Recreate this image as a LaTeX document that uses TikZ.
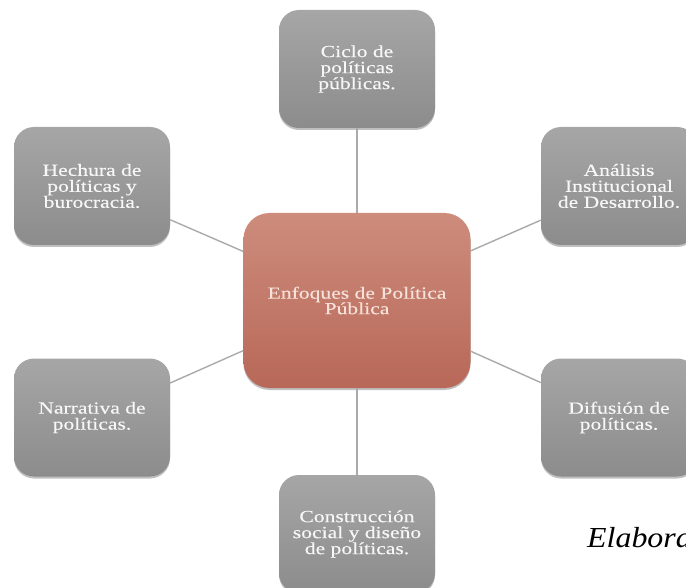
\documentclass[tikz,border=0pt]{standalone}
\usepackage{fontspec}
\newfontfamily\boxfont[FakeStretch=1.27,FakeBold=0.3]{Liberation Serif}
\newfontfamily\elfont[FakeStretch=1.1]{Liberation Serif Italic}
\usetikzlibrary{shadows}
\definecolor{graytop}{RGB}{166,166,166}
\definecolor{graybot}{RGB}{140,140,140}
\definecolor{redtop}{RGB}{205,140,124}
\definecolor{redbot}{RGB}{184,104,88}
\definecolor{linegray}{RGB}{170,170,170}
\definecolor{pinktext}{RGB}{246,226,218}
\tikzset{
  outerbox/.style={rectangle, rounded corners=20pt, minimum width=156pt, minimum height=118pt,
    top color=graytop, bottom color=graybot, draw=none, text=white!94!gray,
    align=center, inner sep=2pt,
    font=\boxfont\fontsize{17}{16}\selectfont,
    drop shadow={shadow xshift=0pt, shadow yshift=-2pt, opacity=.25, fill=black}},
  centerbox/.style={rectangle, rounded corners=26pt, minimum width=227pt, minimum height=175pt,
    top color=redtop, bottom color=redbot, draw=none, text=pinktext,
    align=center, inner sep=2pt,
    font=\boxfont\fontsize{17}{15.5}\selectfont,
    drop shadow={shadow xshift=0pt, shadow yshift=-2pt, opacity=.25, fill=black}},
  conn/.style={draw=linegray, line width=1.4pt}
}
\begin{document}
\begin{tikzpicture}[x=1pt,y=-1pt]
\useasboundingbox (0,0) rectangle (686,588);
\begin{scope}
\clip (0,0) rectangle (686,588);
\node[centerbox] (c) at (357,300.5) {Enfoques de Política\\Pública};
\node[outerbox] (ciclo) at (357,69) {Ciclo de\\políticas\\públicas.};
\node[outerbox] (hech) at (92,186) {Hechura de\\políticas y\\burocracia.};
\node[outerbox] (anal) at (619,186) {Análisis\\Institucional\\de Desarrollo.};
\node[outerbox] (narr) at (92,417.5) {Narrativa de\\políticas.};
\node[outerbox] (difu) at (619,417.5) {Difusión de\\políticas.};
\node[outerbox] (cons) at (357,534) {Construcción\\social y diseño\\de políticas.};
\draw[conn] (c) -- (ciclo);
\draw[conn] (c) -- (hech);
\draw[conn] (c) -- (anal);
\draw[conn] (c) -- (narr);
\draw[conn] (c) -- (difu);
\draw[conn] (c) -- (cons);
\node[anchor=base west, inner sep=0pt, font=\elfont\fontsize{29}{31}\selectfont] (elab) at (587,547) {Elabora};
\end{scope}
\end{tikzpicture}
\end{document}
